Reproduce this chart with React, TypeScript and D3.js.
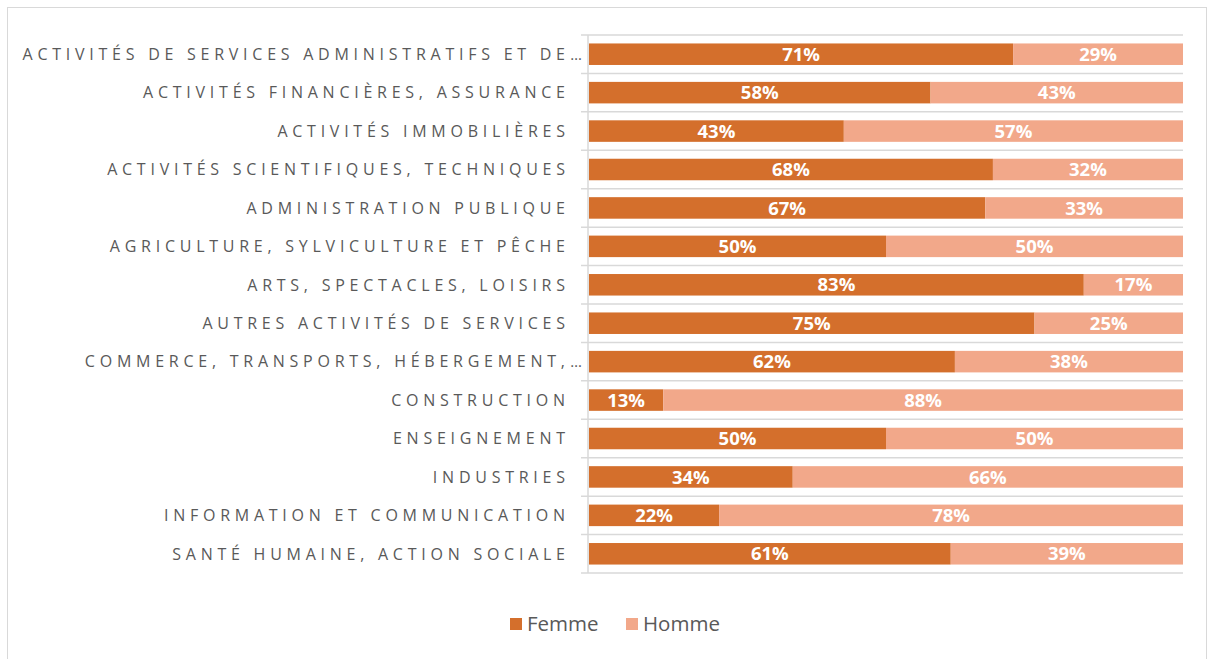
import React from "react";
import * as d3 from "d3";

const categories = [
  "ACTIVITÉS DE SERVICES ADMINISTRATIFS ET DE…",
  "ACTIVITÉS FINANCIÈRES, ASSURANCE",
  "ACTIVITÉS IMMOBILIÈRES",
  "ACTIVITÉS SCIENTIFIQUES, TECHNIQUES",
  "ADMINISTRATION PUBLIQUE",
  "AGRICULTURE, SYLVICULTURE ET PÊCHE",
  "ARTS, SPECTACLES, LOISIRS",
  "AUTRES ACTIVITÉS DE SERVICES",
  "COMMERCE, TRANSPORTS, HÉBERGEMENT,…",
  "CONSTRUCTION",
  "ENSEIGNEMENT",
  "INDUSTRIES",
  "INFORMATION ET COMMUNICATION",
  "SANTÉ HUMAINE, ACTION SOCIALE",
];

const femme = [71.4, 57.5, 42.9, 68.0, 66.7, 50, 83.3, 75, 61.6, 12.5, 50, 34.3, 21.9, 60.9];
const homme = [28.6, 42.5, 57.1, 32.0, 33.3, 50, 16.7, 25, 38.4, 87.5, 50, 65.7, 78.1, 39.1];

const seriesNames = ["Femme", "Homme"];
const seriesColors = ["#D46F2C", "#F2A88A"];

const W = 1214;
const H = 659;
const plotLeft = 589;
const plotRight = 1183;
const plotTop = 35;
const plotBottom = 573;
const labelRight = 565;
const ls = 4.75;

export default function App() {
  const y = d3
    .scaleBand<string>()
    .domain(categories)
    .range([plotTop, plotBottom])
    .paddingInner(0.44)
    .paddingOuter(0.22);
  const x = d3.scaleLinear().domain([0, 100]).range([plotLeft, plotRight]);
  const step = y.step();

  const rows = categories.map((c, i) => ({ c, vals: [femme[i], homme[i]] }));
  const stacked = d3
    .stack<{ c: string; vals: number[] }>()
    .keys(["0", "1"])
    .value((d, k) => d.vals[+k])(rows);

  const fmt = (v: number) => `${Math.round(v)}%`;
  const gridYs = d3.range(categories.length + 1).map((i) => plotTop + i * step);

  return (
    <svg
      width={W}
      height={H}
      style={{ position: "absolute", left: 0, top: 0, background: "#fff" }}
      fontFamily="'Open Sans', sans-serif"
    >
      <rect x={7.5} y={7.5} width={1199} height={H} fill="#fff" stroke="#D9D9D9" strokeWidth={1} />
      {gridYs.map((gy, i) => (
        <line key={i} x1={581} x2={plotRight} y1={gy} y2={gy} stroke="#D9D9D9" strokeWidth={1.5} />
      ))}
      <line x1={588} x2={588} y1={plotTop} y2={plotBottom} stroke="#D9D9D9" strokeWidth={1.5} />
      {stacked.map((s, si) =>
        s.map((d, i) => (
          <g key={`${si}-${i}`}>
            <rect
              x={x(d[0])}
              y={y(categories[i])}
              width={x(d[1]) - x(d[0])}
              height={y.bandwidth()}
              fill={seriesColors[si]}
            />
            <text
              x={(x(d[0]) + x(d[1])) / 2}
              y={(y(categories[i]) as number) + y.bandwidth() / 2}
              dy="0.36em"
              textAnchor="middle"
              fill="#fff"
              fontWeight={700}
              fontSize={18.5}
            >
              {fmt(d[1] - d[0])}
            </text>
          </g>
        ))
      )}
      {categories.map((c, i) => {
        const cy = (y(c) as number) + y.bandwidth() / 2;
        const trunc = c.endsWith("…");
        const main = trunc ? c.slice(0, -1) : c;
        return (
          <g key={c}>
            <text
              x={labelRight + ls}
              y={cy}
              dy="0.36em"
              textAnchor="end"
              fill="#595959"
              fontSize={16}
              letterSpacing={ls}
            >
              {main}
            </text>
            {trunc && (
              <text x={labelRight + ls + 0.6} y={cy} dy="0.36em" fill="#595959" fontSize={15}>
                …
              </text>
            )}
          </g>
        );
      })}
      {seriesNames.map((n, i) => {
        const lx = [510, 626][i];
        return (
          <g key={n}>
            <rect x={lx} y={618} width={12} height={12} fill={seriesColors[i]} />
            <text x={lx + 17} y={624} dy="0.36em" fill="#595959" fontSize={20.5}>
              {n}
            </text>
          </g>
        );
      })}
    </svg>
  );
}
